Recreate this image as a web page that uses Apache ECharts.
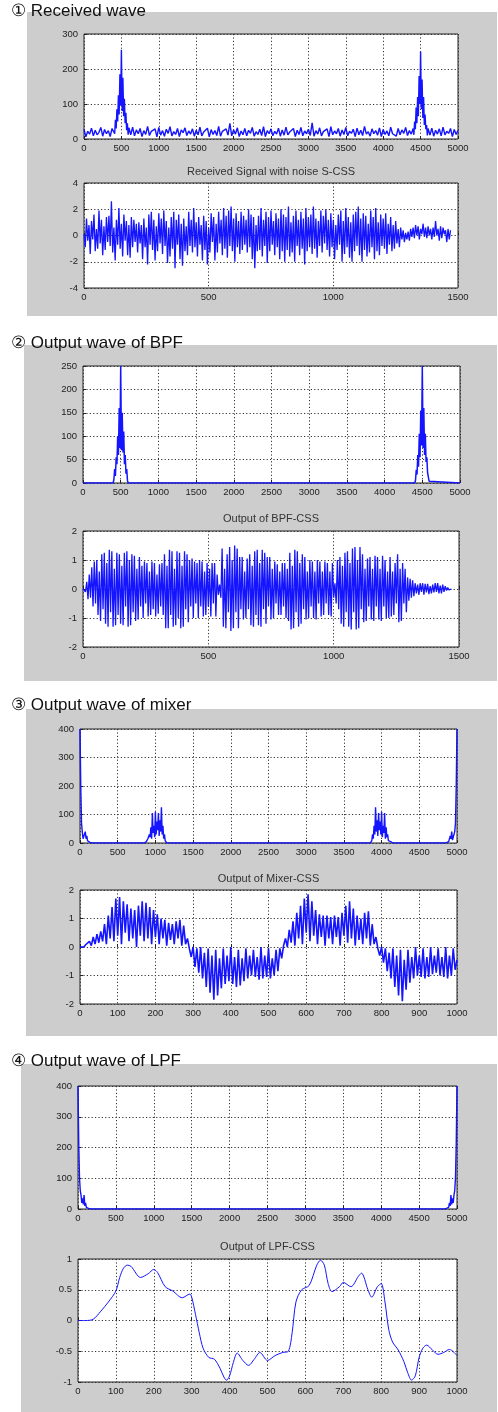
<!DOCTYPE html>
<html><head><meta charset="utf-8">
<script src="https://cdn.jsdelivr.net/npm/echarts@6/dist/echarts.min.js"></script>
<style>html,body{margin:0;padding:0;background:#fff}#c{width:498px;height:1412px}</style>
</head><body><div id="c"></div>
<script>
// ---------- text ----------
const panelTitles = ['\u2460 Received wave', '\u2461 Output wave of BPF', '\u2462 Output wave of mixer', '\u2463 Output wave of LPF'];
const subTitles = ['Received Signal with noise S-CSS', 'Output of BPF-CSS', 'Output of Mixer-CSS', 'Output of LPF-CSS'];

// ---------- 1a: received spectrum (floor every 25, peaks every 10) ----------
const rxFloor = [
28,6,22,14,31,9,25,12,19,33,8,27,15,24,7,30,0,0,0,0,
0,0,0,0,0,12,34,9,26,15,30,7,24,13,36,10,22,17,29,6,
33,11,24,8,28,16,35,9,21,13,30,7,26,18,32,10,23,14,29,8,
25,12,34,9,20,15,31,6,27,13,24,10,36,8,22,17,29,11,45,9,
26,14,32,7,23,12,30,9,25,16,33,8,21,13,28,10,35,7,24,15,
29,9,22,14,31,8,26,11,34,12,20,16,30,7,25,13,33,9,23,15,
28,10,46,8,24,14,32,9,21,17,29,7,35,12,23,15,30,8,26,13,
33,9,22,16,28,7,31,12,25,10,36,14,21,8,29,15,24,11,32,7,
27,13,23,9,34,15,20,8,30,12,26,16,33,10,24,14,0,0,0,0,
0,0,0,0,0,11,31,8,25,14,29,9,34,12,22,16,30,7,27,13,
25];
const rxPeakA = [35,15,55,30,85,50,125,70,185,95,255,80,175,65,115,45,75,25,45,12,32];       // x 400..600
const rxPeakB = [30,12,50,28,90,45,120,65,180,100,250,85,170,60,120,40,70,28,40,10,30];       // x 4400..4600

// ---------- 1b: received signal with noise (every 5 samples) ----------
const rxSignal = [
0.1,-0.9,1.3,-0.4,0.8,-1.4,1.1,-0.3,1.6,-1.2,0.5,-1.0,1.9,-0.6,1.2,-1.5,0.7,-1.1,1.4,-0.5,
1.5,-0.8,2.6,-1.3,0.6,-1.9,1.2,-0.7,2.1,-1.0,0.9,-1.6,1.6,-0.4,1.1,-1.5,0.8,-1.7,1.4,-0.9,
1.2,-0.5,0.9,-1.3,1.0,-0.6,0.8,-1.8,1.3,-0.9,0.6,-2.2,1.6,-0.7,1.8,-1.1,1.2,-1.9,0.7,-1.2,
1.7,-0.6,1.3,-1.4,1.9,-0.8,1.1,-2.1,0.6,-1.6,1.4,-1.0,1.8,-2.5,1.2,-0.7,1.6,-1.8,0.9,-2.3,
1.3,-1.2,0.7,-1.5,1.8,-0.8,1.2,-1.3,2.1,-0.9,1.0,-1.6,1.4,-0.7,0.8,-1.9,1.5,-1.1,1.1,-2.2,
0.6,-1.3,1.7,-0.5,1.4,-1.9,0.9,-1.3,1.8,-0.6,1.2,-1.5,2.1,-1.0,1.5,-1.7,1.9,-0.8,2.2,-1.2,
1.3,-2.0,1.7,-0.9,1.1,-1.4,1.8,-1.1,1.5,-0.7,1.2,-1.3,2.0,-0.9,1.6,-1.8,1.4,-2.5,0.8,-1.2,
1.5,-1.1,2.1,-1.6,1.2,-0.8,1.8,-2.1,1.4,-1.2,1.9,-0.7,1.1,-1.5,1.7,-0.9,1.3,-1.8,2.0,-1.2,
1.6,-2.0,1.4,-1.1,2.2,-1.6,1.0,-1.3,1.5,-2.0,1.9,-0.8,1.2,-1.5,1.8,-1.0,1.3,-2.2,2.1,-1.2,
1.4,-0.9,1.6,-1.4,2.2,-1.0,1.3,-1.7,1.1,-0.8,1.9,-1.3,1.5,-0.6,2.0,-1.1,1.2,-1.6,1.7,-0.9,
1.2,-1.8,0.8,-1.1,1.6,-0.7,1.9,-2.0,1.1,-1.4,2.1,-0.9,1.4,-1.7,1.0,-2.0,1.6,-1.2,1.8,-0.8,
2.2,-1.5,1.3,-2.0,1.7,-1.1,1.5,-1.6,0.9,-1.3,1.9,-0.9,1.4,-1.8,2.1,-1.2,1.0,-1.5,1.6,-0.8,
1.3,-1.0,1.7,-1.4,0.9,-0.7,1.4,-1.2,0.8,-1.0,1.1,-0.6,0.5,-0.9,0.6,-0.3,0.4,-0.5,0.2,-0.3,
0.3,-0.4,0.5,-0.1,0.6,-0.2,0.8,0.0,0.7,-0.3,0.5,0.1,0.9,-0.1,0.6,-0.2,0.7,0.0,0.5,-0.3,
0.6,-0.1,1.1,0.0,0.5,-0.4,0.7,-0.2,0.6,0.1,0.4,-0.5,0.5,-0.3,0.4];

// ---------- 2a: BPF spectrum peaks (every 10) ----------
const bpfPeakA = [0,8,30,15,55,40,100,60,160,75,250,70,150,65,110,40,60,20,30,5,0];        // x 400..600
const bpfPeakB = [0,6,28,18,60,35,105,55,155,80,250,75,160,60,105,45,55,22,25,4,0];        // x 4400..4600

// ---------- 2b: BPF output (every 5 samples) ----------
const bpfSignal = [
0,0.05,-0.1,0.25,-0.35,0.5,-0.3,0.75,-0.6,0.95,-0.5,1.0,-0.9,0.6,-1.1,1.2,-0.7,1.25,-1.2,0.9,
-1.3,1.35,-0.8,1.3,-1.3,0.7,-1.25,1.25,-0.9,1.2,-1.2,0.8,-1.25,1.25,-0.6,1.3,-1.3,1.0,-1.25,1.2,
-0.8,1.15,-1.1,0.7,-1.05,1.1,-0.6,0.8,-1.0,0.95,-0.5,0.9,-0.95,0.6,-0.9,0.95,-0.7,0.9,-0.95,0.5,
-0.85,0.85,-0.6,0.9,-0.9,1.2,-1.35,0.8,-1.35,1.35,-0.9,1.3,-1.3,0.7,-1.25,1.3,-1.0,1.25,-1.35,0.8,
-1.3,1.3,-0.7,1.2,-1.15,1.0,-0.6,1.05,-1.0,0.95,-0.5,0.9,-1.0,1.0,-0.6,0.95,-0.95,0.6,-0.9,0.9,
-0.6,0.7,-0.95,0.9,-0.5,0.9,-0.95,0.5,-0.2,0.15,-0.3,1.4,-1.3,0.7,-1.35,1.2,-0.8,1.45,-1.45,1.0,
-1.35,1.5,-0.8,1.4,-1.35,1.1,-0.7,1.1,-1.05,0.6,-1.0,1.05,-0.7,1.2,-1.25,0.8,-1.3,1.3,-0.9,1.35,
-1.25,0.9,-1.3,1.35,-0.7,1.25,-1.2,1.1,-0.6,1.1,-1.05,0.7,-1.0,0.95,-0.5,0.85,-0.9,0.6,-0.9,0.9,
-0.6,0.9,-1.0,0.7,-1.1,1.25,-1.4,0.8,-1.35,1.35,-0.8,1.3,-1.3,0.9,-1.2,1.2,-0.7,1.1,-1.05,0.6,
-1.0,1.0,-0.6,0.95,-1.0,0.6,-1.05,1.0,-0.5,0.95,-0.95,0.6,-0.9,0.95,-0.5,0.9,-0.9,0.6,-0.95,0.9,
-0.3,0.2,-0.5,1.0,-0.7,1.1,-1.2,0.8,-1.3,1.25,-0.8,1.3,-1.3,0.9,-1.4,1.4,-0.8,1.45,-1.4,1.0,
-1.35,1.45,-0.7,1.2,-1.15,0.7,-1.1,1.05,-0.6,1.1,-1.05,0.7,-1.1,1.15,-0.6,1.1,-1.05,0.7,-1.1,1.15,
-0.6,1.0,-1.0,0.6,-1.0,1.1,-0.95,0.6,-0.9,0.9,-0.5,1.2,-1.15,0.7,-1.1,0.9,-0.5,0.7,-0.8,0.4,
-0.4,0.35,-0.3,0.3,-0.25,0.2,-0.15,0.15,-0.2,0.2,-0.1,0.2,-0.2,0.18,-0.12,0.18,-0.18,0.1,-0.15,0.15,
-0.12,0.2,-0.1,0.2,-0.15,0.12,-0.15,0.15,-0.1,0.1,-0.05,0.05,-0.03,0.02,0];

// ---------- 3a: mixer spectrum (every 10) ----------
const mixLow  = [400,200,70,40,15,20,10,40,15,25,8,5,3,2,1,0.5,0,0,0,0,0];                 // x 0..200
const mixMidA = [0,1,2,5,3,15,8,30,20,55,15,105,35,60,20,110,30,75,45,105,25,80,40,125,30,60,15,30,8,3,0]; // x 850..1150
const mixMidB = [0,3,8,30,15,60,30,125,40,80,25,105,45,75,30,110,20,60,35,105,15,55,20,30,8,15,3,5,2,1,0]; // x 3850..4150
const mixHigh = [0,0,0,0,0,0.5,1,2,3,5,8,25,15,40,10,20,15,40,70,200,400];                 // x 4800..5000

// ---------- 3b: mixer output (every 5 samples) ----------
const mixSignal = [
0,0.02,0.0,0.08,0.02,0.2,0.05,0.35,0.1,0.45,0.15,0.55,0.2,0.8,0.1,1.1,0.3,1.4,0.2,1.7,
0.4,1.75,0.1,1.6,0.5,1.5,0.2,1.35,0.3,1.3,0.0,1.45,0.4,1.6,0.2,1.55,0.3,1.4,0.1,1.3,
0.35,1.15,0.1,1.0,0.3,0.95,0.05,0.85,0.25,0.8,0.1,0.9,0.3,0.95,0.05,0.75,0.1,0.3,-0.05,-0.35,
0.0,-0.7,-0.05,-0.9,0.0,-1.1,-0.2,-1.4,-0.05,-1.6,-0.3,-1.85,-0.1,-1.7,-0.4,-1.45,-0.05,-1.3,-0.3,-1.2,
0.0,-1.3,-0.35,-1.4,-0.1,-1.35,-0.4,-1.2,-0.05,-1.1,-0.3,-1.0,-0.1,-1.05,-0.35,-1.15,0.0,-1.1,-0.3,-1.05,
-0.05,-1.1,-0.4,-1.0,-0.1,-0.85,-0.05,-0.4,0.05,0.3,0.0,0.6,0.15,0.9,0.05,1.2,0.3,1.45,0.1,1.7,
0.5,1.85,0.2,1.6,0.4,1.3,0.1,1.15,0.35,1.1,0.05,1.1,0.3,1.05,0.1,1.1,0.35,1.05,0.05,1.2,
0.4,1.45,0.15,1.6,0.3,1.35,0.05,1.1,0.25,1.0,0.1,1.2,0.3,1.25,0.05,0.8,0.1,0.35,-0.05,-0.3,
0.0,-0.55,-0.05,-0.85,-0.2,-1.1,-0.05,-1.4,-0.3,-1.7,-0.1,-1.9,-0.45,-1.5,-0.1,-1.25,-0.35,-1.1,0.0,-1.0,
-0.3,-1.05,-0.05,-1.1,-0.35,-1.05,0.0,-0.95,-0.3,-0.9,-0.05,-1.0,-0.35,-1.05,0.0,-1.1,-0.3,-1.0,-0.05,-0.8,
-0.45];

// ---------- 4a: LPF spectrum (every 10) ----------
const lpfLow  = [400,210,100,60,45,20,35,15,45,10,20,5,8,3,2,1,0,0,0,0,0];                 // x 0..200
const lpfHigh = [0,0,0,0,0,1,2,3,8,5,20,10,45,15,35,20,45,60,100,210,400];                 // x 4800..5000

// ---------- 4b: LPF output ----------
const lpfX = [0,20,40,60,80,100,110,120,130,140,165,185,200,210,230,250,275,295,300,310,320,330,345,360,375,385,392,400,410,420,435,450,465,480,500,520,540,555,565,575,590,610,630,640,650,660,670,690,700,720,740,748,765,775,790,800,810,820,830,845,860,870,880,890,900,910,920,935,950,965,980,1000];
const lpfY = [0,0,0.02,0.15,0.3,0.48,0.7,0.85,0.9,0.88,0.7,0.76,0.83,0.78,0.55,0.48,0.37,0.43,0.38,0.1,-0.2,-0.45,-0.6,-0.63,-0.78,-0.92,-0.97,-0.9,-0.68,-0.53,-0.65,-0.73,-0.63,-0.52,-0.65,-0.57,-0.52,-0.5,-0.2,0.3,0.5,0.57,0.9,0.98,0.9,0.6,0.47,0.55,0.62,0.55,0.72,0.77,0.5,0.38,0.55,0.6,0.3,-0.15,-0.35,-0.48,-0.67,-0.85,-0.97,-0.9,-0.6,-0.45,-0.4,-0.48,-0.55,-0.52,-0.47,-0.57];

// ---------- helpers ----------
const stepped = (arr, step, x0) => arr.map((v, i) => [x0 + i * step, v]);
const byX = (a, b) => a[0] - b[0];
const outside = (lo, hi) => p => !(p[0] >= lo && p[0] <= hi);

const d1a = stepped(rxFloor, 25, 0).filter(outside(400, 600)).filter(outside(4400, 4600))
  .concat(stepped(rxPeakA, 10, 400), stepped(rxPeakB, 10, 4400)).sort(byX);
const d1b = stepped(rxSignal, 5, 0);
const d2a = [[0, 0]].concat(stepped(bpfPeakA, 10, 400), stepped(bpfPeakB, 10, 4400), [[5000, 0]]);
const d2b = stepped(bpfSignal, 5, 0);
const d3a = stepped(mixLow, 10, 0).concat(stepped(mixMidA, 10, 850), stepped(mixMidB, 10, 3850), stepped(mixHigh, 10, 4800));
const d3b = stepped(mixSignal, 5, 0);
const d4a = stepped(lpfLow, 10, 0).concat(stepped(lpfHigh, 10, 4800));
const d4b = lpfX.map((x, i) => [x, lpfY[i]]);

// ---------- layout ----------
const grids = [
  {left: 84, top: 34,   width: 374, height: 105},
  {left: 84, top: 183,  width: 374, height: 105},
  {left: 83, top: 366,  width: 377, height: 117},
  {left: 83, top: 531,  width: 376, height: 116},
  {left: 80, top: 729,  width: 377, height: 114},
  {left: 80, top: 890,  width: 377, height: 114},
  {left: 78, top: 1086, width: 379, height: 123},
  {left: 78, top: 1259, width: 379, height: 123}
];
const xr = [[0,5000,500],[0,1500,500],[0,5000,500],[0,1500,500],[0,5000,500],[0,1000,100],[0,5000,500],[0,1000,100]];
const yr = [[0,300,100],[-4,4,2],[0,250,50],[-2,2,1],[0,400,100],[-2,2,1],[0,400,100],[-1,1,0.5]];
const datas = [d1a, d1b, d2a, d2b, d3a, d3b, d4a, d4b];
const widths = [1.4, 1.3, 1.5, 1.3, 1.4, 1.6, 1.4, 1];
const panels = [[27,12,470,304],[24,345,473,336],[26,709,471,327],[21,1064,476,348]];
const panelTitleY = [11, 343, 705, 1061];
const subTitleY = [172, 519, 879, 1247];

const FONT = 'Liberation Sans, Arial, sans-serif';
const grid = grids.map(g => Object.assign({show: true, backgroundColor: '#fff', borderColor: '#222', borderWidth: 1, containLabel: false}, g));
const dotted = {show: true, lineStyle: {color: '#333', type: [1.2, 2.2], width: 1}};
const axisLabel = {color: '#222', fontSize: 9.5, fontFamily: FONT, formatter: v => String(v)};
const xAxis = xr.map((r, i) => ({type: 'value', gridIndex: i, min: r[0], max: r[1], interval: r[2],
  axisLine: {show: false}, axisTick: {show: true, inside: true, length: 3, lineStyle: {color: '#222'}},
  splitLine: dotted, axisLabel: Object.assign({margin: 4}, axisLabel)}));
const yAxis = yr.map((r, i) => ({type: 'value', gridIndex: i, min: r[0], max: r[1], interval: r[2],
  axisLine: {show: false}, axisTick: {show: true, inside: true, length: 3, lineStyle: {color: '#222'}},
  splitLine: dotted, axisLabel: Object.assign({margin: 6}, axisLabel)}));
const series = datas.map((d, i) => ({type: 'line', xAxisIndex: i, yAxisIndex: i, data: d, showSymbol: false,
  smooth: i === 7 ? 0.3 : false, sampling: null, lineStyle: {color: '#1414ff', width: widths[i]}, itemStyle: {color: '#1414ff'}}));

const graphic = [];
panels.forEach((p, i) => {
  graphic.push({type: 'rect', z: -100, shape: {x: p[0], y: p[1], width: p[2], height: p[3]}, style: {fill: '#cdcdcd'}});
});
panelTitles.forEach((t, i) => {
  graphic.push({type: 'text', z: 100, x: 11, y: panelTitleY[i], style: {text: t, fill: '#111', font: '17px ' + FONT, verticalAlign: 'middle'}});
});
subTitles.forEach((t, i) => {
  const g = grids[2 * i + 1];
  graphic.push({type: 'text', z: 100, x: g.left + g.width / 2, y: subTitleY[i], style: {text: t, fill: '#333', font: '11px ' + FONT, align: 'center', verticalAlign: 'middle'}});
});

const chart = echarts.init(document.getElementById('c'), null, {renderer: 'canvas'});
chart.setOption({animation: false, backgroundColor: '#fff', grid, xAxis, yAxis, series, graphic});
</script></body></html>
